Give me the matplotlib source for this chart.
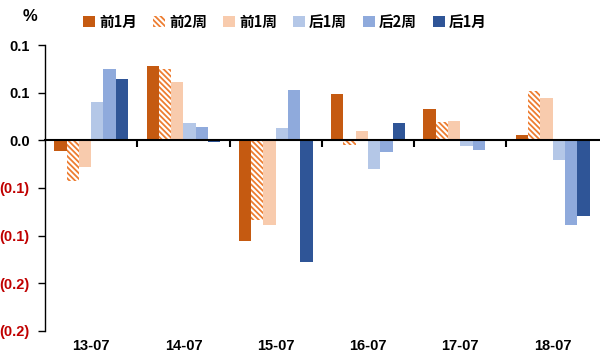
import numpy as np
import matplotlib.pyplot as plt
from matplotlib.transforms import blended_transform_factory

plt.rcParams['font.family'] = ['Liberation Sans Narrow', 'Liberation Sans', 'Noto Sans CJK SC', 'DejaVu Sans']

# 数据
categories = ['13-07', '14-07', '15-07', '16-07', '17-07', '18-07']
series_names = ['前1月', '前2周', '前1周', '后1周', '后2周', '后1月']
v_pre_1m = [-0.0114, 0.0782, -0.1060, 0.0482, 0.0332, 0.0054]
v_pre_2w = [-0.0425, 0.0750, -0.0832, -0.0054, 0.0193, 0.0514]
v_pre_1w = [-0.0279, 0.0611, -0.0889, 0.0096, 0.0204, 0.0439]
v_post_1w = [0.0407, 0.0182, 0.0129, -0.0300, -0.0064, -0.0204]
v_post_2w = [0.0750, 0.0139, 0.0525, -0.0118, -0.0107, -0.0889]
v_post_1m = [0.0643, -0.0018, -0.1275, 0.0182, 0.0011, -0.0793]
yticks = [-0.2, -0.15, -0.1, -0.05, 0.0, 0.05, 0.1]
ytick_labels = ['(0.2)', '(0.2)', '(0.1)', '(0.1)', '0.0', '0.1', '0.1']

series = [v_pre_1m, v_pre_2w, v_pre_1w, v_post_1w, v_post_2w, v_post_1m]
colors = ['#C55A11', 'white', '#F8CBAD', '#B4C7E7', '#8FAADC', '#2F5597']

fig = plt.figure(figsize=(6, 3.6), dpi=100)
ax = fig.add_axes([0.075, 0.081, 0.923, 0.794])

x = np.arange(len(categories))
w = 0.8 / 6
plt.rcParams['hatch.linewidth'] = 1.3
for i, (vals, c) in enumerate(zip(series, colors)):
    xs = x - 0.4 + w * (i + 0.5)
    if i == 1:
        ax.bar(xs, vals, w, color='white', edgecolor='#ED7D31', hatch='\\\\\\\\\\\\',
               linewidth=0, label=series_names[i])
    else:
        ax.bar(xs, vals, w, color=c, linewidth=0, label=series_names[i])

ax.set_xlim(-0.5, len(categories) - 0.5)
ax.set_ylim(-0.2, 0.1)
ax.set_yticks(yticks)
ax.set_yticklabels(ytick_labels, fontweight='bold', fontsize=10.5)
for lab, v in zip(ax.get_yticklabels(), yticks):
    if v < 0:
        lab.set_color('#C00000')
ax.tick_params(axis='y', direction='out', length=5, width=1, pad=6)

# 零线与分组刻度
for s in ['top', 'right']:
    ax.spines[s].set_visible(False)
ax.spines['bottom'].set_position(('data', 0))
ax.spines['bottom'].set_linewidth(1.5)
ax.spines['left'].set_linewidth(1)
ax.set_xticks(x[:-1] + 0.5)
ax.set_xticklabels([])
ax.tick_params(axis='x', direction='out', length=5, width=1.5)

trans = blended_transform_factory(ax.transData, fig.transFigure)
for xi, c in zip(x, categories):
    ax.text(xi, 0.04, c, transform=trans, ha='center', va='center',
            fontweight='bold', fontsize=10.5)

fig.text(0.05, 0.955, '%', fontweight='bold', fontsize=12, ha='center', va='center')

leg = fig.legend(loc='center', bbox_to_anchor=(0.475, 0.94), ncol=6, frameon=False,
                 handlelength=0.8, handleheight=0.8, handletextpad=0.3, columnspacing=1.1,
                 prop={'family': ['Noto Sans CJK SC'], 'weight': 'bold', 'size': 10.5})

fig.savefig('out.png', dpi=100)
